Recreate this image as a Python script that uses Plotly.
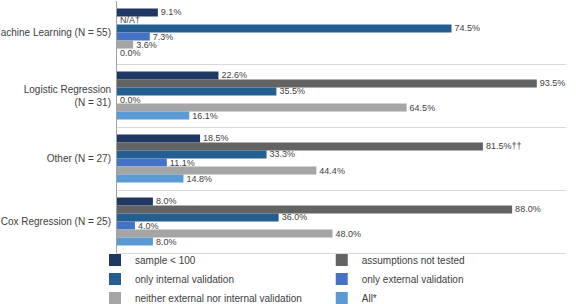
import plotly.graph_objects as go

categories = ["Machine Learning (N = 55)", "Logistic Regression<br>(N = 31)", "Other (N = 27)", "Cox Regression (N = 25)"]
series_names = ["sample < 100", "assumptions not tested", "only internal validation",
                "only external validation", "neither external nor internal validation", "All*"]
sample_lt_100 = [9.1, 22.6, 18.5, 8.0]
assumptions_not_tested = [0.0, 93.5, 81.5, 88.0]
only_internal = [74.5, 35.5, 33.3, 36.0]
only_external = [7.3, 0.0, 11.1, 4.0]
neither = [3.6, 64.5, 44.4, 48.0]
all_star = [0.0, 16.1, 14.8, 8.0]
label_overrides = {(1, 0): "N/A\u2020", (1, 2): "81.5%\u2020\u2020"}

series_values = [sample_lt_100, assumptions_not_tested, only_internal, only_external, neither, all_star]
colors = ["#203864", "#636363", "#255E91", "#4472C4", "#A5A5A5", "#5B9BD5"]

fig = go.Figure()
for i, (name, vals, col) in enumerate(zip(series_names, series_values, colors)):
    texts = [label_overrides.get((i, j), f"{v:.1f}%") for j, v in enumerate(vals)]
    fig.add_trace(go.Bar(
        y=categories, x=vals, name=name, orientation="h",
        marker=dict(color=col, line=dict(width=0)),
        text=texts, textposition="outside", constraintext="none", cliponaxis=False,
        textfont=dict(size=9, color="#404040", family="Liberation Sans, Arial"),
        legend="legend" if i % 2 == 0 else "legend2",
    ))

legend_common = dict(orientation="v", yanchor="top", y=0.03, xanchor="left",
                     traceorder="normal", bgcolor="rgba(0,0,0,0)",
                     font=dict(size=10, color="#404040"), tracegroupgap=0)
fig.update_layout(
    barmode="group", bargap=0.235, bargroupgap=0,
    width=576, height=304,
    margin=dict(l=117, r=10, t=1, b=51, autoexpand=False),
    paper_bgcolor="white", plot_bgcolor="white",
    font=dict(family="Liberation Sans, Arial", size=10, color="#404040"),
    legend=dict(x=-0.049, **legend_common),
    legend2=dict(x=0.456, **legend_common),
    showlegend=True,
)
fig.update_xaxes(range=[0, 100], showticklabels=False, showgrid=False, zeroline=False,
                 showline=True, linecolor="#D9D9D9", linewidth=1, ticks="", automargin=False)
fig.update_yaxes(autorange="reversed", tickson="boundaries", showgrid=True, gridcolor="#D9D9D9",
                 gridwidth=1, showline=True, linecolor="#A0A0A0", linewidth=1, ticks="",
                 tickfont=dict(size=10, color="#404040"), ticklabelstandoff=3, automargin=False)

fig.write_html("out.html")
